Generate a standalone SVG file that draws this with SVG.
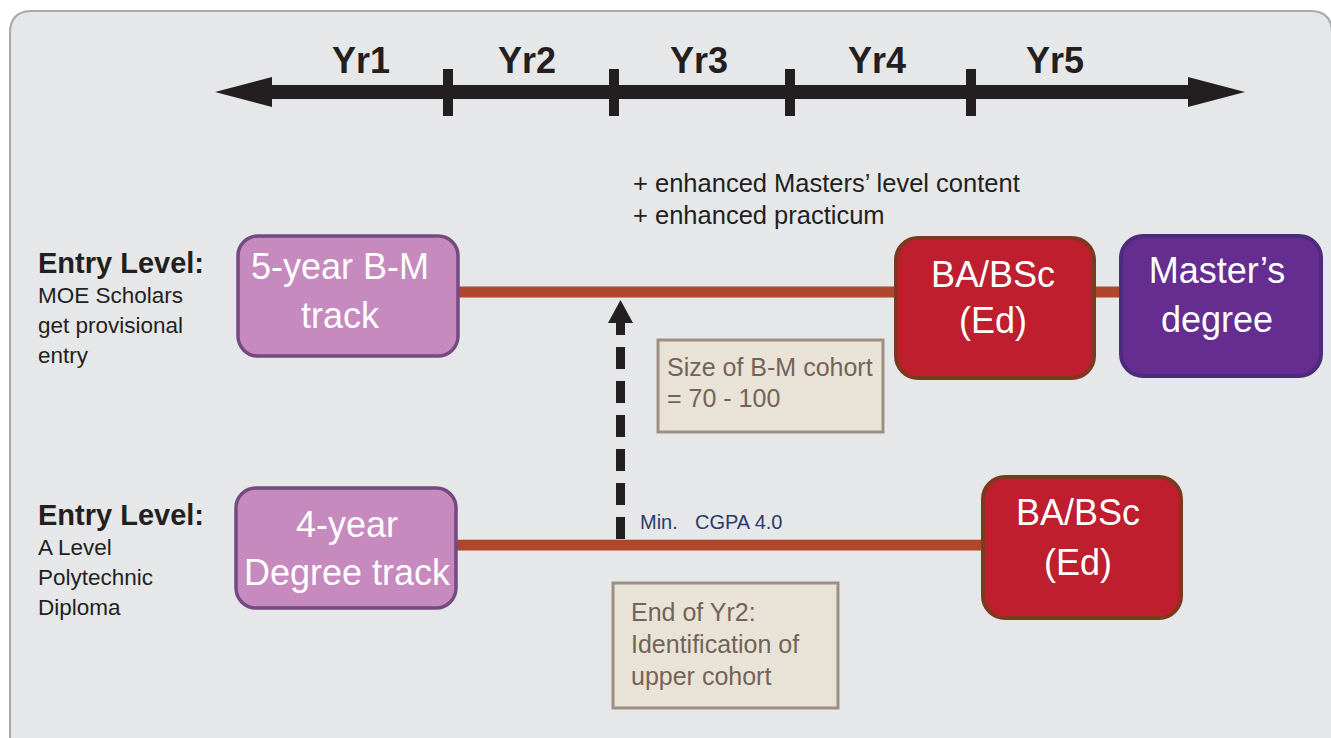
<svg xmlns="http://www.w3.org/2000/svg" width="1331" height="738" viewBox="0 0 1331 738">
<style>
text{font-family:"Liberation Sans",Arial,sans-serif}
.yr{font-size:36px;font-weight:bold;fill:#231f20;text-anchor:middle}
.hd{font-size:29px;font-weight:bold;fill:#231f20}
.sub{font-size:22.5px;fill:#231f20}
.note{font-size:25.5px;fill:#231f20}
.bx{font-size:36px;fill:#ffffff;text-anchor:middle}
.cap{font-size:25px;fill:#736357}
.min{font-size:20px;fill:#2b3a6b}
.pink{fill:#c68abe;stroke:#744a80;stroke-width:3.5}
.red{fill:#be1e2d;stroke:#7b3a1e;stroke-width:4}
.purp{fill:#662d91;stroke:#4b2b7c;stroke-width:4}
.tan{fill:#e9e3d7;stroke:#9d8d82;stroke-width:3}
.track{stroke:#b0472d;stroke-width:11;fill:none}
</style>
<rect width="1331" height="738" fill="#ffffff"/>
<path d="M10,738 L10,33 Q10,11 32,11 L1310,11 Q1332,11 1332,33 L1332,738" fill="#e6e7e9" stroke="#a7a9ac" stroke-width="2"/>

<g id="timeline">
<rect x="268" y="85" width="924" height="14" fill="#231f20"/>
<polygon points="215,92 272,77 272,107" fill="#231f20"/>
<polygon points="1245,92 1188,77 1188,107" fill="#231f20"/>
<rect x="443" y="69" width="10" height="47" fill="#231f20"/>
<rect x="609" y="69" width="10" height="47" fill="#231f20"/>
<rect x="785" y="69" width="10" height="47" fill="#231f20"/>
<rect x="966" y="69" width="10" height="47" fill="#231f20"/>
<text class="yr" x="361" y="73">Yr1</text>
<text class="yr" x="527" y="73">Yr2</text>
<text class="yr" x="699" y="73">Yr3</text>
<text class="yr" x="877" y="73">Yr4</text>
<text class="yr" x="1055" y="73">Yr5</text>
</g>

<g id="connectors">
<line class="track" x1="458" y1="292" x2="897" y2="292" stroke-width="10"/>
<line class="track" x1="1093" y1="292" x2="1122" y2="292" stroke-width="10"/>
<line class="track" x1="456" y1="545" x2="985" y2="545"/>
<line x1="456" y1="539.5" x2="985" y2="539.5" stroke="#d9b5a8" stroke-width="1"/>
<line x1="620.5" y1="539" x2="620.5" y2="320" stroke="#231f20" stroke-width="9" stroke-dasharray="22 12"/>
<polygon points="620.5,300 608,323 633,323" fill="#231f20"/>
</g>

<g id="notes">
<text class="note" x="633" y="192">+ enhanced Masters’ level content</text>
<text class="note" x="633" y="224">+ enhanced practicum</text>
<text class="min" x="640" y="529">Min.</text>
<text class="min" x="695" y="529">CGPA 4.0</text>
</g>

<g id="entry-upper">
<text class="hd" x="38" y="273">Entry Level:</text>
<text class="sub" x="38" y="303">MOE Scholars</text>
<text class="sub" x="38" y="333">get provisional</text>
<text class="sub" x="38" y="363">entry</text>
</g>
<g id="entry-lower">
<text class="hd" x="38" y="525">Entry Level:</text>
<text class="sub" x="38" y="555">A Level</text>
<text class="sub" x="38" y="585">Polytechnic</text>
<text class="sub" x="38" y="615">Diploma</text>
</g>

<g id="node-5year">
<rect class="pink" x="238" y="236" width="220" height="120" rx="20"/>
<text class="bx" x="340" y="279" font-size="37">5-year B-M</text>
<text class="bx" x="340" y="328" font-size="37">track</text>
</g>
<g id="node-4year">
<rect class="pink" x="236" y="488" width="220" height="120" rx="20"/>
<text class="bx" x="347" y="537" font-size="37">4-year</text>
<text class="bx" x="347" y="585" font-size="37">Degree track</text>
</g>
<g id="node-ba-upper">
<rect class="red" x="896" y="238" width="198" height="140" rx="22"/>
<text class="bx" x="993" y="287">BA/BSc</text>
<text class="bx" x="993" y="333">(Ed)</text>
</g>
<g id="node-masters">
<rect class="purp" x="1121" y="236" width="200" height="140" rx="22"/>
<text class="bx" x="1217" y="283" font-size="37">Master’s</text>
<text class="bx" x="1217" y="332" font-size="37">degree</text>
</g>
<g id="node-ba-lower">
<rect class="red" x="983" y="477" width="198" height="141" rx="22"/>
<text class="bx" x="1078" y="525">BA/BSc</text>
<text class="bx" x="1078" y="575">(Ed)</text>
</g>

<g id="box-cohort-size">
<rect x="656" y="338" width="229" height="96" fill="#f0f0f0" opacity="0.6"/>
<rect class="tan" x="658" y="340" width="225" height="92"/>
<text class="cap" x="667" y="376">Size of B-M cohort</text>
<text class="cap" x="667" y="407">= 70 - 100</text>
</g>
<g id="box-end-yr2">
<rect x="611" y="581" width="229" height="129" fill="#f0f0f0" opacity="0.6"/>
<rect class="tan" x="613" y="583" width="225" height="125"/>
<text class="cap" x="631" y="621">End of Yr2:</text>
<text class="cap" x="631" y="653">Identification of</text>
<text class="cap" x="631" y="685">upper cohort</text>
</g>
</svg>
